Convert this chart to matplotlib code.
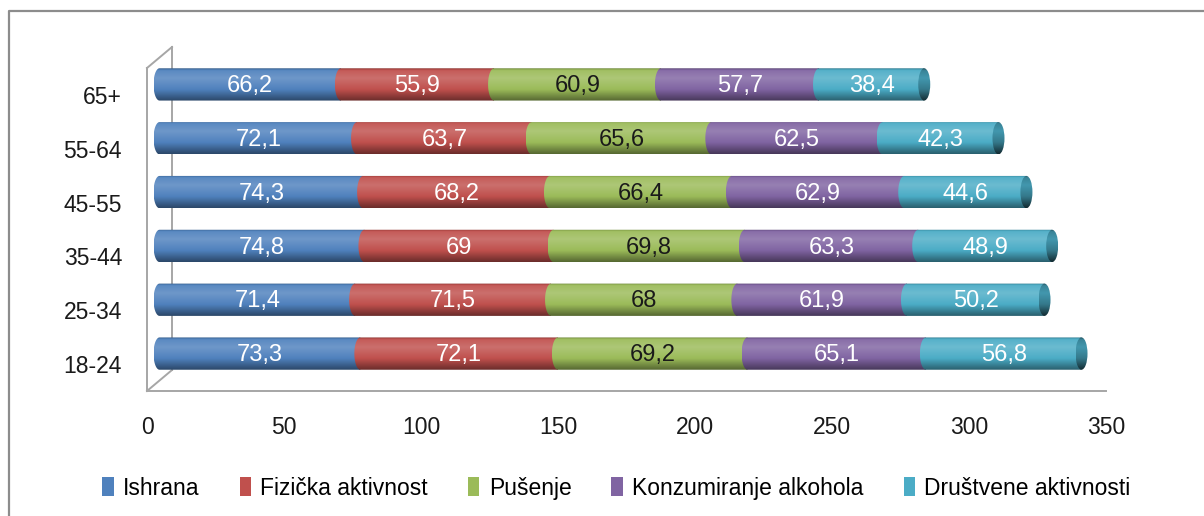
import matplotlib.pyplot as plt
import numpy as np
from matplotlib.colors import to_rgb
from matplotlib.lines import Line2D
from matplotlib.patches import Ellipse, Patch, PathPatch
from matplotlib.path import Path

plt.rcParams['font.family'] = ['Liberation Sans', 'DejaVu Sans']

# Age groups, bottom row first
age_groups = ['18-24', '25-34', '35-44', '45-55', '55-64', '65+']
series_names = ['Ishrana', 'Fizička aktivnost', 'Pušenje',
                'Konzumiranje alkohola', 'Društvene aktivnosti']

ishrana = [73.3, 71.4, 74.8, 74.3, 72.1, 66.2]
fizicka = [72.1, 71.5, 69, 68.2, 63.7, 55.9]
pusenje = [69.2, 68, 69.8, 66.4, 65.6, 60.9]
alkohol = [65.1, 61.9, 63.3, 62.9, 62.5, 57.7]
drustvene = [56.8, 50.2, 48.9, 44.6, 42.3, 38.4]

series = [ishrana, fizicka, pusenje, alkohol, drustvene]
colors = ['#4F81BD', '#C0504D', '#9BBB59', '#8064A2', '#4BACC6']
label_colors = ['white', 'white', '#1a1a1a', 'white', 'white']

x_ticks = [0, 50, 100, 150, 200, 250, 300, 350]

fig = plt.figure(figsize=(12.04, 5.16), dpi=100)
ax = fig.add_axes([147 / 1204, 125 / 516, 959 / 1204, 323 / 516])
ax.set_xlim(0, 350)
ax.set_ylim(-0.5, 5.5)

# pseudo-3D: depth of the chart box and half depth for the bars
px_x = 350 / 959
px_y = 6 / 323
depth_x, depth_y = 25 * px_x, 21 * px_y
off_x, off_y = 12.5 * px_x, 10.5 * px_y
cap_a = 6 * px_x
half_h = 0.3


def shade(color, dark=0.0, n=80):
    base = np.array(to_rgb(color))
    t = np.linspace(0, 1, n)
    k = np.interp(t, [0, 0.06, 0.3, 0.65, 1.0], [-0.3, 0.06, 0.18, 0.0, -0.45]) - dark
    k = k[:, None]
    rgb = np.where(k > 0, base + (1 - base) * k, base * (1 + k))
    return np.clip(rgb, 0, 1)[:, None, :]


def segment_path(x0, x1, yc):
    theta = np.linspace(np.pi / 2, 3 * np.pi / 2, 40)
    verts = [(x1, yc + half_h)]
    verts += list(zip(x0 + cap_a * np.cos(theta), yc + half_h * np.sin(theta)))
    verts += [(x1, yc - half_h), (x1, yc + half_h)]
    codes = [Path.MOVETO] + [Path.LINETO] * (len(verts) - 2) + [Path.CLOSEPOLY]
    return Path(verts, codes)


def gradient_fill(patch, color, extent, dark=0.0):
    patch.set_facecolor('none')
    patch.set_edgecolor('none')
    ax.add_patch(patch)
    im = ax.imshow(shade(color, dark), extent=extent, origin='upper',
                   aspect='auto', interpolation='bicubic', zorder=3)
    im.set_clip_path(patch)


for row in range(len(age_groups)):
    yc = row + off_y
    left = 0.0
    for values, color, tcol in zip(series, colors, label_colors):
        v = values[row]
        x0, x1 = left + off_x, left + v + off_x
        patch = PathPatch(segment_path(x0, x1, yc), transform=ax.transData)
        gradient_fill(patch, color, [x0 - cap_a, x1, yc - half_h, yc + half_h])
        ax.text((x0 + x1) / 2, yc - 0.03, f'{v:g}'.replace('.', ','),
                ha='center', va='center', color=tcol, fontsize=17, zorder=5)
        left += v
    # darker end cap of the cylinder
    xe = left + off_x
    cap = Ellipse((xe, yc), 2 * cap_a, 2 * half_h, transform=ax.transData)
    gradient_fill(cap, colors[-1], [xe - cap_a, xe + cap_a, yc - half_h, yc + half_h],
                  dark=0.3)

# walls of the box
wall = dict(color='#a6a6a6', lw=1.4, clip_on=False, zorder=2)
ax.plot([0, 350], [-0.5, -0.5], **wall)
ax.plot([0, 0], [-0.5, 5.5], **wall)
ax.plot([0, depth_x], [5.5, 5.5 + depth_y], **wall)
ax.plot([depth_x, depth_x], [5.5 + depth_y, -0.5 + depth_y], **wall)
ax.plot([depth_x, 0], [-0.5 + depth_y, -0.5], **wall)

ax.set_xticks(x_ticks)
ax.set_yticks(range(len(age_groups)))
ax.set_yticklabels(age_groups)
ax.tick_params(axis='both', length=0, labelsize=16.5, colors='#1a1a1a')
ax.tick_params(axis='x', pad=18)
ax.tick_params(axis='y', pad=18)
for s in ax.spines.values():
    s.set_visible(False)

handles = [Patch(facecolor=c, edgecolor='none') for c in colors]
fig.legend(handles, series_names, loc='center', bbox_to_anchor=(0.512, 0.054),
           ncol=5, frameon=False, fontsize=16.5, handlelength=0.5, handleheight=0.9,
           handletextpad=0.4, columnspacing=1.75)

# outer chart border
fig.add_artist(Line2D([9 / 1204, 9 / 1204, 1.05], [-0.05, 505 / 516, 505 / 516],
                      transform=fig.transFigure, color='#8c8c8c', lw=1.6))

fig.savefig('out.png', dpi=100)
